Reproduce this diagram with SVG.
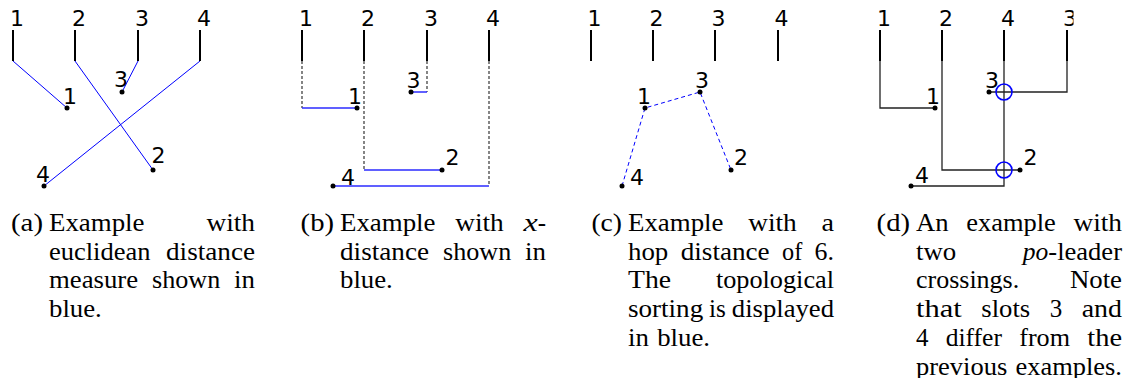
<svg xmlns="http://www.w3.org/2000/svg" width="1128" height="378" viewBox="0 0 1128 378">
<defs>
<style>
.slot{stroke:#000;stroke-width:2;fill:none}
.lbl{font-family:"DejaVu Sans",sans-serif;font-size:22px;fill:#000}
.dot{fill:#000}
.eu{stroke:#0000ff;stroke-width:1;fill:none}
.dash{stroke:#222;stroke-width:1.1;stroke-dasharray:3 2;fill:none}
.xd{stroke:#2b2bff;stroke-width:1.5;fill:none}
.hop{stroke:#0000ff;stroke-width:1;stroke-dasharray:4 3;fill:none}
.ld{stroke:#222;stroke-width:1.3;fill:none}
.cross{stroke:#0000ff;stroke-width:1.6;fill:none}
.cap{font-family:"Liberation Serif","Times New Roman",serif;font-size:25px;fill:#000}
.it{font-style:italic}
</style>
<clipPath id="clipd"><rect x="0" y="0" width="1073.5" height="378"/></clipPath>
</defs>
<rect width="1128" height="378" fill="#fff"/>

<!-- Panel a -->
<g id="panel-a">
 <g id="a-connectors">
  <line class="eu" x1="13" y1="61" x2="67" y2="108"/>
  <line class="eu" x1="75" y1="61" x2="153" y2="170"/>
  <line class="eu" x1="138" y1="61" x2="122" y2="92"/>
  <line class="eu" x1="200" y1="61" x2="44" y2="186"/>
 </g>
 <g id="a-slot1"><text class="lbl" x="10" y="26">1</text><line class="slot" x1="13" y1="30" x2="13" y2="61"/></g>
 <g id="a-slot2"><text class="lbl" x="72" y="26">2</text><line class="slot" x1="75" y1="30" x2="75" y2="61"/></g>
 <g id="a-slot3"><text class="lbl" x="135" y="26">3</text><line class="slot" x1="138" y1="30" x2="138" y2="61"/></g>
 <g id="a-slot4"><text class="lbl" x="197" y="26">4</text><line class="slot" x1="200" y1="30" x2="200" y2="61"/></g>
 <g id="a-pt1"><circle class="dot" cx="67" cy="108" r="2.5"/><text class="lbl" x="63" y="104">1</text></g>
 <g id="a-pt2"><circle class="dot" cx="153" cy="170" r="2.5"/><text class="lbl" x="151.5" y="163">2</text></g>
 <g id="a-pt3"><circle class="dot" cx="122" cy="92" r="2.5"/><text class="lbl" x="114" y="87">3</text></g>
 <g id="a-pt4"><circle class="dot" cx="44" cy="186" r="2.5"/><text class="lbl" x="36" y="182">4</text></g>
</g>

<!-- Panel b -->
<g id="panel-b">
 <g id="b-connectors">
  <line class="dash" x1="302" y1="61" x2="302" y2="108"/>
  <line class="dash" x1="364" y1="61" x2="364" y2="170"/>
  <line class="dash" x1="427" y1="61" x2="427" y2="92"/>
  <line class="dash" x1="489" y1="61" x2="489" y2="186"/>
  <line class="xd" x1="302" y1="108" x2="357" y2="108"/>
  <line class="xd" x1="364" y1="170" x2="442" y2="170"/>
  <line class="xd" x1="427" y1="92" x2="411" y2="92"/>
  <line class="xd" x1="489" y1="186" x2="333" y2="186"/>
 </g>
 <g id="b-slot1"><text class="lbl" x="299" y="26">1</text><line class="slot" x1="302" y1="30" x2="302" y2="61"/></g>
 <g id="b-slot2"><text class="lbl" x="361" y="26">2</text><line class="slot" x1="364" y1="30" x2="364" y2="61"/></g>
 <g id="b-slot3"><text class="lbl" x="424" y="26">3</text><line class="slot" x1="427" y1="30" x2="427" y2="61"/></g>
 <g id="b-slot4"><text class="lbl" x="486" y="26">4</text><line class="slot" x1="489" y1="30" x2="489" y2="61"/></g>
 <g id="b-pt1"><circle class="dot" cx="357" cy="108" r="2.5"/><text class="lbl" x="348" y="104">1</text></g>
 <g id="b-pt2"><circle class="dot" cx="442" cy="170" r="2.5"/><text class="lbl" x="445.5" y="165">2</text></g>
 <g id="b-pt3"><circle class="dot" cx="411" cy="92" r="2.5"/><text class="lbl" x="406.5" y="88">3</text></g>
 <g id="b-pt4"><circle class="dot" cx="333" cy="186" r="2.5"/><text class="lbl" x="341" y="185">4</text></g>
</g>

<!-- Panel c -->
<g id="panel-c">
 <g id="c-connectors">
  <polyline class="hop" points="622,186 645,108 700,92 731,170"/>
 </g>
 <g id="c-slot1"><text class="lbl" x="587.5" y="26">1</text><line class="slot" x1="591" y1="30" x2="591" y2="61"/></g>
 <g id="c-slot2"><text class="lbl" x="649.5" y="26">2</text><line class="slot" x1="653" y1="30" x2="653" y2="61"/></g>
 <g id="c-slot3"><text class="lbl" x="711.5" y="26">3</text><line class="slot" x1="715" y1="30" x2="715" y2="61"/></g>
 <g id="c-slot4"><text class="lbl" x="774.5" y="26">4</text><line class="slot" x1="778" y1="30" x2="778" y2="61"/></g>
 <g id="c-pt1"><circle class="dot" cx="645" cy="108" r="2.5"/><text class="lbl" x="637" y="104">1</text></g>
 <g id="c-pt2"><circle class="dot" cx="731" cy="170" r="2.5"/><text class="lbl" x="734" y="165">2</text></g>
 <g id="c-pt3"><circle class="dot" cx="700" cy="92" r="2.5"/><text class="lbl" x="695" y="88">3</text></g>
 <g id="c-pt4"><circle class="dot" cx="622" cy="186" r="2.5"/><text class="lbl" x="630" y="185">4</text></g>
</g>

<!-- Panel d -->
<g id="panel-d">
 <g id="d-connectors">
  <polyline class="ld" points="880,61 880,108 935,108"/>
  <polyline class="ld" points="942,61 942,170 1020,170"/>
  <polyline class="ld" points="1004,61 1004,186 911,186"/>
  <polyline class="ld" points="1067,61 1067,92 989,92"/>
 </g>
 <g id="d-slot1"><text class="lbl" x="877" y="26">1</text><line class="slot" x1="880" y1="30" x2="880" y2="61"/></g>
 <g id="d-slot2"><text class="lbl" x="939" y="26">2</text><line class="slot" x1="942" y1="30" x2="942" y2="61"/></g>
 <g id="d-slot4"><text class="lbl" x="1001" y="26">4</text><line class="slot" x1="1004" y1="30" x2="1004" y2="61"/></g>
 <g id="d-slot3"><text class="lbl" x="1063" y="26" clip-path="url(#clipd)">3</text><line class="slot" x1="1067" y1="30" x2="1067" y2="61"/></g>
 <g id="d-pt1"><circle class="dot" cx="935" cy="108" r="2.5"/><text class="lbl" x="926" y="104">1</text></g>
 <g id="d-pt2"><circle class="dot" cx="1020" cy="170" r="2.5"/><text class="lbl" x="1023.5" y="165">2</text></g>
 <g id="d-pt3"><circle class="dot" cx="989" cy="92" r="2.5"/><text class="lbl" x="985" y="88">3</text></g>
 <g id="d-pt4"><circle class="dot" cx="911" cy="186" r="2.5"/><text class="lbl" x="915" y="183">4</text></g>
 <g id="d-crossings">
  <circle class="cross" cx="1004" cy="92" r="8"/>
  <circle class="cross" cx="1004" cy="170" r="8"/>
 </g>
</g>

<!-- Captions -->
<g id="caption-a" class="cap">
 <text x="11" y="231" textLength="32" lengthAdjust="spacingAndGlyphs">(a)</text>
 <text x="49" y="231" textLength="95.5" lengthAdjust="spacingAndGlyphs">Example</text>
 <text x="206.4" y="231" textLength="48.6" lengthAdjust="spacingAndGlyphs">with</text>
 <text x="49" y="259.7" textLength="101.4" lengthAdjust="spacingAndGlyphs">euclidean</text>
 <text x="166" y="259.7" textLength="89" lengthAdjust="spacingAndGlyphs">distance</text>
 <text x="49" y="288.4" textLength="89.1" lengthAdjust="spacingAndGlyphs">measure</text>
 <text x="152" y="288.4" textLength="68.2" lengthAdjust="spacingAndGlyphs">shown</text>
 <text x="234.1" y="288.4" textLength="20.9" lengthAdjust="spacingAndGlyphs">in</text>
 <text x="49" y="317.1" textLength="52.8" lengthAdjust="spacingAndGlyphs">blue.</text>
</g>
<g id="caption-b" class="cap">
 <text x="300.6" y="231" textLength="33.4" lengthAdjust="spacingAndGlyphs">(b)</text>
 <text x="340" y="231" textLength="95.5" lengthAdjust="spacingAndGlyphs">Example</text>
 <text x="455.2" y="231" textLength="48.6" lengthAdjust="spacingAndGlyphs">with</text>
 <text x="523.4" y="231" class="it" textLength="14.3" lengthAdjust="spacingAndGlyphs">x</text>
 <text x="537.7" y="231" textLength="8.3" lengthAdjust="spacingAndGlyphs">-</text>
 <text x="340" y="259.7" textLength="89" lengthAdjust="spacingAndGlyphs">distance</text>
 <text x="443" y="259.7" textLength="68.2" lengthAdjust="spacingAndGlyphs">shown</text>
 <text x="525.1" y="259.7" textLength="20.9" lengthAdjust="spacingAndGlyphs">in</text>
 <text x="340" y="288.4" textLength="52.8" lengthAdjust="spacingAndGlyphs">blue.</text>
</g>
<g id="caption-c" class="cap">
 <text x="591.4" y="231" textLength="30.6" lengthAdjust="spacingAndGlyphs">(c)</text>
 <text x="628" y="231" textLength="95.5" lengthAdjust="spacingAndGlyphs">Example</text>
 <text x="748.2" y="231" textLength="48.6" lengthAdjust="spacingAndGlyphs">with</text>
 <text x="821.5" y="231" textLength="12.5" lengthAdjust="spacingAndGlyphs">a</text>
 <text x="628" y="259.7" textLength="40.3" lengthAdjust="spacingAndGlyphs">hop</text>
 <text x="680.7" y="259.7" textLength="89" lengthAdjust="spacingAndGlyphs">distance</text>
 <text x="782.1" y="259.7" textLength="20.2" lengthAdjust="spacingAndGlyphs">of</text>
 <text x="814.6" y="259.7" textLength="19.4" lengthAdjust="spacingAndGlyphs">6.</text>
 <text x="628" y="288.4" textLength="43" lengthAdjust="spacingAndGlyphs">The</text>
 <text x="715.9" y="288.4" textLength="118.1" lengthAdjust="spacingAndGlyphs">topological</text>
 <text x="628" y="317.1" textLength="75.2" lengthAdjust="spacingAndGlyphs">sorting</text>
 <text x="709.1" y="317.1" textLength="16.8" lengthAdjust="spacingAndGlyphs">is</text>
 <text x="731.8" y="317.1" textLength="102.2" lengthAdjust="spacingAndGlyphs">displayed</text>
 <text x="628" y="345.8" textLength="20.9" lengthAdjust="spacingAndGlyphs">in</text>
 <text x="657.2" y="345.8" textLength="52.8" lengthAdjust="spacingAndGlyphs">blue.</text>
</g>
<g id="caption-d" class="cap">
 <text x="876.6" y="231" textLength="33.4" lengthAdjust="spacingAndGlyphs">(d)</text>
 <text x="916" y="231" textLength="32.6" lengthAdjust="spacingAndGlyphs">An</text>
 <text x="966.2" y="231" textLength="89.6" lengthAdjust="spacingAndGlyphs">example</text>
 <text x="1073.4" y="231" textLength="48.6" lengthAdjust="spacingAndGlyphs">with</text>
 <text x="916" y="259.7" textLength="40.3" lengthAdjust="spacingAndGlyphs">two</text>
 <text x="1022.8" y="259.7" class="it" textLength="25.5" lengthAdjust="spacingAndGlyphs">po</text>
 <text x="1048.3" y="259.7" textLength="73.7" lengthAdjust="spacingAndGlyphs">-leader</text>
 <text x="916" y="288.4" textLength="103.2" lengthAdjust="spacingAndGlyphs">crossings.</text>
 <text x="1069.9" y="288.4" textLength="52.1" lengthAdjust="spacingAndGlyphs">Note</text>
 <text x="916" y="317.1" textLength="45.8" lengthAdjust="spacingAndGlyphs">that</text>
 <text x="981.3" y="317.1" textLength="48.9" lengthAdjust="spacingAndGlyphs">slots</text>
 <text x="1049.7" y="317.1" textLength="12.5" lengthAdjust="spacingAndGlyphs">3</text>
 <text x="1081.7" y="317.1" textLength="40.3" lengthAdjust="spacingAndGlyphs">and</text>
 <text x="916" y="345.8" textLength="12.5" lengthAdjust="spacingAndGlyphs">4</text>
 <text x="945.7" y="345.8" textLength="56.3" lengthAdjust="spacingAndGlyphs">differ</text>
 <text x="1019.2" y="345.8" textLength="50.8" lengthAdjust="spacingAndGlyphs">from</text>
 <text x="1087.3" y="345.8" textLength="34.7" lengthAdjust="spacingAndGlyphs">the</text>
 <text x="916" y="374.5" textLength="91.2" lengthAdjust="spacingAndGlyphs">previous</text>
 <text x="1015.5" y="374.5" textLength="106.4" lengthAdjust="spacingAndGlyphs">examples.</text>
</g>
</svg>
